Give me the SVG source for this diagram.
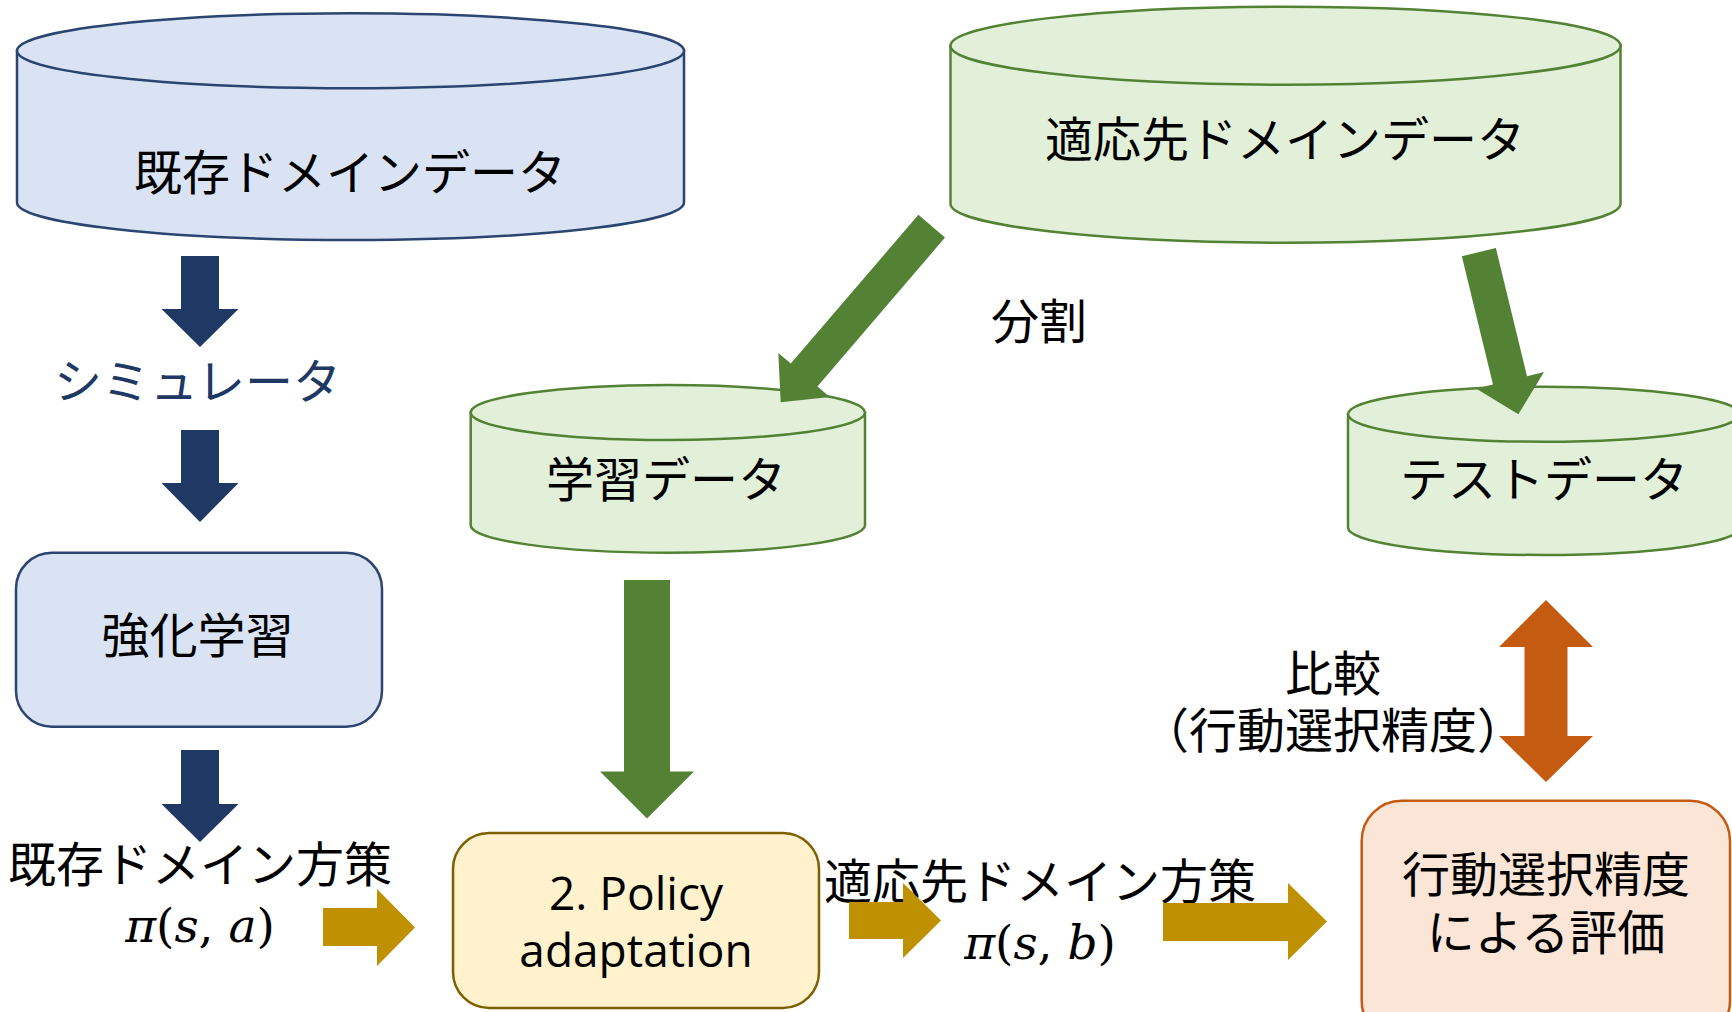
<svg xmlns="http://www.w3.org/2000/svg" width="1732" height="1012" viewBox="0 0 1732 1012">
<style>
.jp{font-family:"Noto Sans CJK JP","Noto Sans",sans-serif;font-size:48px;fill:#000;text-anchor:middle}
.lat{font-family:"Open Sans","Noto Sans",sans-serif;font-size:46px;fill:#000;text-anchor:middle}
.math{font-family:"DejaVu Serif","Liberation Serif",serif;font-size:47px;fill:#000;text-anchor:middle}
.it{font-style:italic}
.blueN{fill:#dae3f3;stroke:#2b4470;stroke-width:2.5}
.greenN{fill:#e2f0d9;stroke:#548235;stroke-width:2.5}
.goldN{fill:#fff2cc;stroke:#7f6000;stroke-width:2.5}
.orangeN{fill:#fbe5d6;stroke:#c55a11;stroke-width:2.5}
.aBlue{fill:#203864}
.aGreen{fill:#548235}
.aGold{fill:#bf9000}
.aOrange{fill:#c55a11}
</style>

<g id="node-existing-data">
  <path class="blueN" d="M17,50.8 V202.5 A333.5,37.5 0 0 0 684,202.5 V50.8 Z"/>
  <ellipse class="blueN" cx="350.5" cy="50.8" rx="333.5" ry="37.5"/>
  <text class="jp" x="350" y="190">既存ドメインデータ</text>
</g>

<g id="node-target-data">
  <path class="greenN" d="M950.5,45.7 V203.7 A335,39 0 0 0 1620.5,203.7 V45.7 Z"/>
  <ellipse class="greenN" cx="1285.5" cy="45.7" rx="335" ry="39"/>
  <text class="jp" x="1285" y="157">適応先ドメインデータ</text>
</g>

<g id="node-train-data">
  <path class="greenN" d="M470.7,412.5 V525.2 A197.15,27.5 0 0 0 865,525.2 V412.5 Z"/>
  <ellipse class="greenN" cx="667.85" cy="412.5" rx="197.15" ry="27.5"/>
  <text class="jp" x="666" y="497">学習データ</text>
</g>

<g id="node-test-data">
  <path class="greenN" d="M1348,414.2 V527.5 A196,27.5 0 0 0 1740,527.5 V414.2 Z"/>
  <ellipse class="greenN" cx="1544" cy="414.2" rx="196" ry="27.5"/>
  <text class="jp" x="1544" y="497">テストデータ</text>
</g>

<g id="node-simulator">
  <text class="jp" x="197.5" y="399" style="fill:#203864">シミュレータ</text>
</g>

<g id="node-rl">
  <rect class="blueN" x="16" y="552.7" width="366" height="174" rx="36" ry="36"/>
  <text class="jp" x="197.5" y="653">強化学習</text>
</g>

<g id="node-existing-policy">
  <text class="jp" x="200" y="882">既存ドメイン方策</text>
  <text class="math" x="200" y="942"><tspan class="it">π</tspan>(<tspan class="it">s</tspan>, <tspan class="it">a</tspan>)</text>
</g>

<g id="node-policy-adaptation">
  <rect class="goldN" x="453" y="833" width="366" height="175" rx="36" ry="36"/>
  <text class="lat" x="636" y="910">2. Policy</text>
  <text class="lat" x="636" y="967">adaptation</text>
</g>

<g id="node-target-policy">
  <text class="jp" x="1040" y="899">適応先ドメイン方策</text>
  <text class="math" x="1040" y="959"><tspan class="it">π</tspan>(<tspan class="it">s</tspan>, <tspan class="it">b</tspan>)</text>
</g>

<g id="node-evaluation">
  <rect class="orangeN" x="1361.7" y="800.7" width="368.3" height="240" rx="40" ry="40"/>
  <text class="jp" x="1546" y="892">行動選択精度</text>
  <text class="jp" x="1546" y="950">による評価</text>
</g>

<g id="connectors">
  <polygon class="aBlue" points="181,256 219,256 219,309 238.5,309 200,347 161.5,309 181,309"/>
  <polygon class="aBlue" points="181,430 219,430 219,483 238.5,483 200,522 161.5,483 181,483"/>
  <polygon class="aBlue" points="181,750 219,750 219,804 238.5,804 200,842 161.5,804 181,804"/>

  <polygon class="aGreen" points="918.4,214.8 945,237.6 817.4,386.4 829.9,397.1 780.7,402.3 778.3,352.9 790.8,363.6"/>
  <polygon class="aGreen" points="1461.85,256.3 1495.85,248 1527,376.2 1544,372 1518.3,414.3 1476,388.6 1493,384.4"/>
  <polygon class="aGreen" points="624,580 670,580 670,771.5 694,771.5 647,818.5 600,771.5 624,771.5"/>

  <polygon class="aGold" points="323,908 377,908 377,889 415,927.5 377,966 377,946 323,946"/>
  <polygon class="aGold" points="849,902 903,902 903,883 941,920.5 903,958 903,939 849,939"/>
  <polygon class="aGold" points="1163,903 1288,903 1288,883 1327,921.5 1288,960 1288,941 1163,941"/>

  <polygon class="aOrange" points="1546,600 1593,647 1567.5,647 1567.5,736 1593,736 1546,782 1499,736 1524.5,736 1524.5,647 1499,647"/>

  <text class="jp" x="1039" y="339">分割</text>
  <text class="jp" x="1333" y="691">比較</text>
  <text class="jp" x="1333" y="748">（行動選択精度）</text>
</g>
</svg>
